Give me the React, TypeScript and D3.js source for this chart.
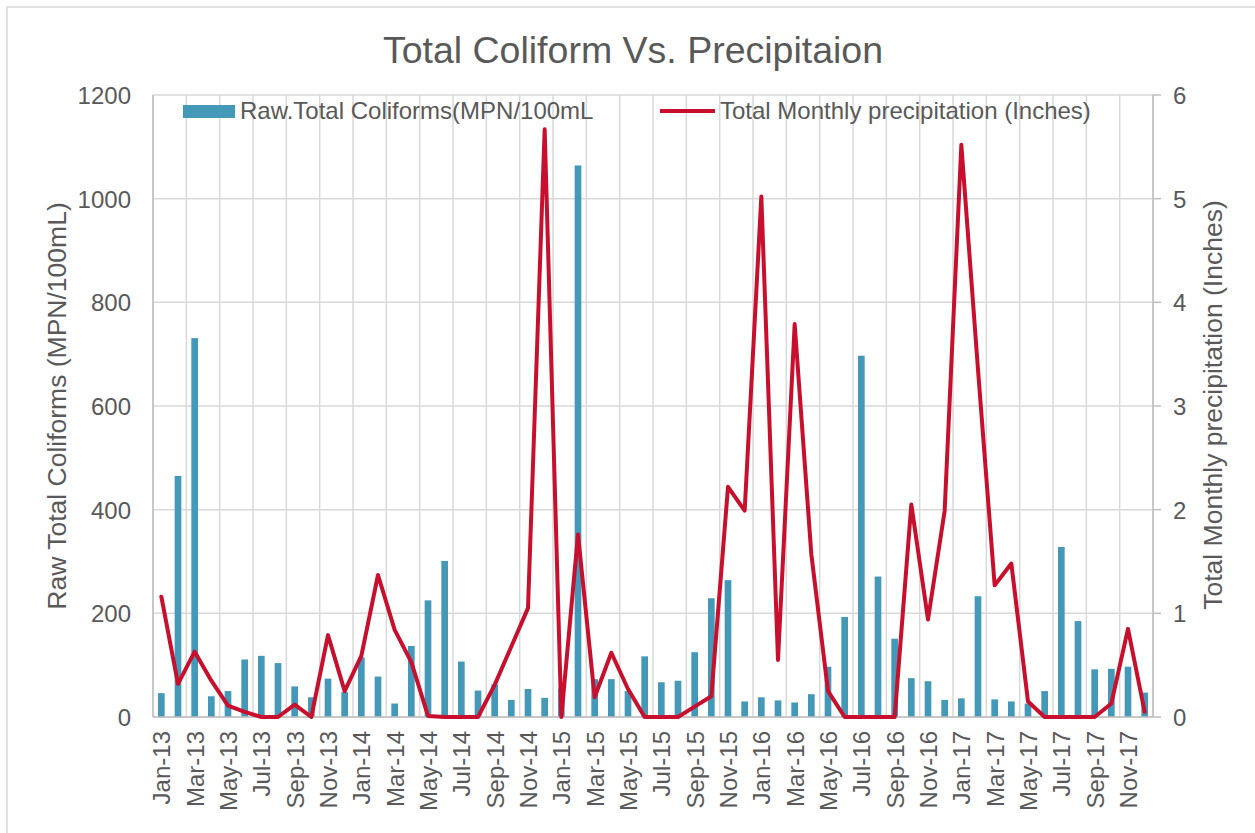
import React from "react";
import * as d3 from "d3";

const months = [
  "Jan-13","Feb-13","Mar-13","Apr-13","May-13","Jun-13","Jul-13","Aug-13","Sep-13","Oct-13","Nov-13","Dec-13",
  "Jan-14","Feb-14","Mar-14","Apr-14","May-14","Jun-14","Jul-14","Aug-14","Sep-14","Oct-14","Nov-14","Dec-14",
  "Jan-15","Feb-15","Mar-15","Apr-15","May-15","Jun-15","Jul-15","Aug-15","Sep-15","Oct-15","Nov-15","Dec-15",
  "Jan-16","Feb-16","Mar-16","Apr-16","May-16","Jun-16","Jul-16","Aug-16","Sep-16","Oct-16","Nov-16","Dec-16",
  "Jan-17","Feb-17","Mar-17","Apr-17","May-17","Jun-17","Jul-17","Aug-17","Sep-17","Oct-17","Nov-17","Dec-17",
];

const coliforms = [
  46, 465, 731, 40, 50, 111, 118, 104, 59, 38,
  74, 48, 115, 78, 26, 137, 225, 301, 107, 51,
  63, 33, 54, 37, 55, 1064, 73, 73, 50, 117,
  67, 70, 125, 229, 264, 30, 38, 32, 28, 44,
  97, 193, 697, 271, 151, 75, 69, 33, 36, 233,
  34, 30, 26, 50, 328, 185, 92, 93, 97, 47,
];

const precipitation = [
  1.16, 0.32, 0.63, 0.35, 0.11, 0.05, 0, 0, 0.12, 0,
  0.79, 0.25, 0.59, 1.37, 0.84, 0.53, 0.01, 0, 0, 0,
  0.31, 0.68, 1.05, 5.67, 0, 1.76, 0.19, 0.62, 0.27, 0,
  0, 0, 0.1, 0.2, 2.22, 1.99, 5.02, 0.55, 3.79, 1.57,
  0.25, 0, 0, 0, 0, 2.05, 0.94, 1.99, 5.52, 3.35,
  1.27, 1.48, 0.15, 0, 0, 0, 0, 0.13, 0.85, 0.05,
];

const leftTicks = [0, 200, 400, 600, 800, 1000, 1200];
const rightTicks = [0, 1, 2, 3, 4, 5, 6];

const title = "Total Coliform Vs. Precipitaion";
const leftTitle = "Raw Total Coliforms (MPN/100mL)";
const rightTitle = "Total Monthly precipitation (Inches)";
const barLegend = "Raw.Total Coliforms(MPN/100mL";
const lineLegend = "Total Monthly precipitation (Inches)";

const W = 1255;
const H = 833;
const plot = { left: 153, right: 1153, top: 95, bottom: 717 };
const FONT = "'Liberation Sans', Arial, sans-serif";
const TEXT = "#595959";
const GRID = "#d9d9d9";
const AXIS = "#bfbfbf";
const BAR = "#4499b8";
const LINE = "#c8102e";

export default function App() {
  const x = d3.scaleBand<string>().domain(months).range([plot.left, plot.right]).padding(0);
  const step = x.step();
  const barW = step / 2.5;
  const yL = d3.scaleLinear().domain([0, 1200]).range([plot.bottom, plot.top]);
  const yR = d3.scaleLinear().domain([0, 6]).range([plot.bottom, plot.top]);
  const cx = (m: string) => (x(m) as number) + step / 2;

  const lineGen = d3
    .line<number>()
    .x((_, i) => cx(months[i]))
    .y((d) => yR(d));

  const vGrid = months.filter((_, i) => i % 2 === 0).map((m) => x(m) as number);
  vGrid.push(plot.right);

  return (
    <svg
      width={W}
      height={H}
      style={{ position: "absolute", left: 0, top: 0, background: "#fff" }}
      fontFamily={FONT}
    >
      <rect x={0} y={0} width={W} height={H} fill="#fff" />
      <rect x={7} y={7} width={W + 20} height={H + 20} fill="none" stroke={GRID} strokeWidth={1.5} />

      <text x={633} y={63} textAnchor="middle" fontSize={37.5} fill={TEXT}>
        {title}
      </text>

      {leftTicks.map((t) => (
        <line key={"h" + t} x1={plot.left} x2={plot.right} y1={yL(t)} y2={yL(t)} stroke={GRID} strokeWidth={1.5} />
      ))}
      {vGrid.map((gx, i) => (
        <line key={"v" + i} x1={gx} x2={gx} y1={plot.top} y2={plot.bottom} stroke={GRID} strokeWidth={1.5} />
      ))}

      <line x1={plot.left} x2={plot.left} y1={plot.top} y2={plot.bottom} stroke={AXIS} strokeWidth={1.5} />
      <line x1={plot.right} x2={plot.right} y1={plot.top} y2={plot.bottom} stroke={AXIS} strokeWidth={1.5} />
      {rightTicks.map((t) => (
        <line key={"rt" + t} x1={plot.right} x2={plot.right + 8} y1={yR(t)} y2={yR(t)} stroke={AXIS} strokeWidth={1.5} />
      ))}

      {coliforms.map((v, i) => (
        <rect
          key={"b" + i}
          x={cx(months[i]) - barW / 2}
          y={yL(v)}
          width={barW}
          height={yL(0) - yL(v)}
          fill={BAR}
        />
      ))}

      <line x1={plot.left} x2={plot.right} y1={plot.bottom} y2={plot.bottom} stroke={AXIS} strokeWidth={1.5} />

      <path
        d={lineGen(precipitation) || ""}
        fill="none"
        stroke={LINE}
        strokeWidth={4}
        strokeLinejoin="round"
        strokeLinecap="round"
      />

      {leftTicks.map((t) => (
        <text key={"lt" + t} x={131} y={yL(t) + 9} textAnchor="end" fontSize={24} fill={TEXT}>
          {t}
        </text>
      ))}
      {rightTicks.map((t) => (
        <text key={"rl" + t} x={1173} y={yR(t) + 9} textAnchor="start" fontSize={24} fill={TEXT}>
          {t}
        </text>
      ))}
      {months.map((m, i) =>
        i % 2 === 0 ? (
          <text
            key={"xl" + i}
            transform={`translate(${cx(m) + 9},731) rotate(-90)`}
            textAnchor="end"
            fontSize={24}
            fill={TEXT}
          >
            {m}
          </text>
        ) : null
      )}

      <text transform={`translate(66,406) rotate(-90)`} textAnchor="middle" fontSize={26.5} fill={TEXT}>
        {leftTitle}
      </text>
      <text transform={`translate(1222,405) rotate(-90)`} textAnchor="middle" fontSize={26.5} fill={TEXT}>
        {rightTitle}
      </text>

      <rect x={183} y={105} width={52} height={13} fill={BAR} />
      <text x={240} y={119} fontSize={24} fill={TEXT}>
        {barLegend}
      </text>
      <line x1={660} x2={715} y1={111} y2={111} stroke={LINE} strokeWidth={4} />
      <text x={720} y={119} fontSize={24} fill={TEXT}>
        {lineLegend}
      </text>
    </svg>
  );
}
